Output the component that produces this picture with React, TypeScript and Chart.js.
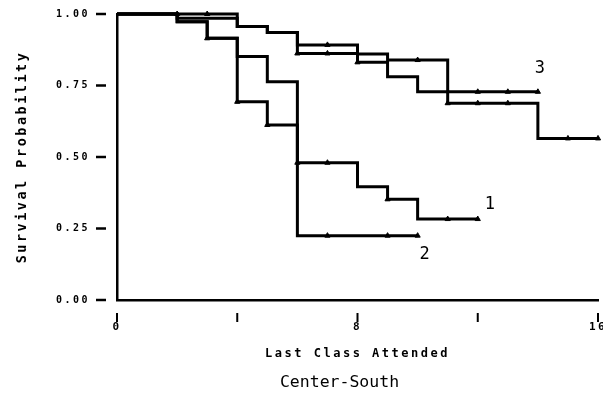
import React, { useEffect, useRef } from 'react';
import { Chart, registerables } from 'chart.js';
Chart.register(...registerables);

// ---- data ----
const xTicks = [0, 4, 8, 12, 16];
const xTickLabels = ['0', '', '8', '', '16'];
const yTicks = [0, 0.25, 0.5, 0.75, 1.0];
const yTickLabels = ['0.00', '0.25', '0.50', '0.75', '1.00'];

const times1 = [0, 2, 3, 4, 5, 6, 8, 9, 10, 12];
const surv1 = [1.0, 0.973, 0.915, 0.851, 0.763, 0.48, 0.396, 0.352, 0.283, 0.283];
const censor1 = [3, 6, 7, 9, 11, 12];

const times2 = [0, 2, 3, 4, 5, 6, 10];
const surv2 = [1.0, 0.973, 0.915, 0.693, 0.612, 0.225, 0.225];
const censor2 = [4, 5, 7, 9, 10];

const times3 = [0, 4, 5, 6, 8, 9, 11, 14];
const surv3 = [1.0, 0.956, 0.935, 0.892, 0.86, 0.839, 0.728, 0.728];
const censor3 = [2, 3, 7, 10, 12, 13, 14];

const times4 = [0, 2, 4, 5, 6, 8, 9, 10, 11, 14, 16];
const surv4 = [1.0, 0.985, 0.956, 0.935, 0.862, 0.831, 0.781, 0.728, 0.688, 0.565, 0.565];
const censor4 = [6, 7, 8, 11, 12, 13, 15, 16];

const curveLabels = ['1', '2', '3'];
const titleText = 'Center-South';
const xTitle = 'Last Class Attended';
const yTitle = 'Survival Probability';

const MONO = "'DejaVu Sans Mono', 'Liberation Mono', monospace";

function stepAt(times: number[], surv: number[], t: number) {
  let v = surv[0];
  for (let i = 0; i < times.length; i++) if (times[i] <= t) v = surv[i];
  return v;
}

function curveDataset(times: number[], surv: number[]) {
  return {
    type: 'line' as const,
    data: times.map((t, i) => ({ x: t, y: surv[i] })),
    stepped: 'before' as const,
    borderColor: '#000',
    borderWidth: 3,
    pointRadius: 0,
    fill: false,
    clip: false as any,
    borderCapStyle: 'butt' as const,
    borderJoinStyle: 'miter' as const,
  };
}

function censorDataset(times: number[], surv: number[], cens: number[]) {
  return {
    type: 'scatter' as const,
    data: cens.map((t) => ({ x: t, y: stepAt(times, surv, t) })),
    showLine: false,
    pointStyle: 'triangle' as const,
    pointRadius: 3,
    pointBackgroundColor: '#000',
    pointBorderColor: '#000',
    pointBorderWidth: 1,
    clip: false as any,
  };
}

const decorPlugin = {
  id: 'decor',
  beforeDraw(chart: any) {
    chart.ctx.letterSpacing = '2.5px';
  },
  afterDraw(chart: any) {
    const ctx = chart.ctx;
    const { left, bottom, right } = chart.chartArea;
    const xs = chart.scales.x;
    const ys = chart.scales.y;
    ctx.save();
    ctx.letterSpacing = '0px';
    ctx.strokeStyle = '#000';
    ctx.fillStyle = '#000';
    // y tick dashes (detached from axis)
    ctx.lineWidth = 2.5;
    yTicks.forEach((v) => {
      const py = ys.getPixelForValue(v);
      ctx.beginPath();
      ctx.moveTo(left - 21, py);
      ctx.lineTo(left - 11, py);
      ctx.stroke();
    });
    // x tick marks (detached from axis)
    ctx.lineWidth = 2;
    xTicks.forEach((v) => {
      const px = xs.getPixelForValue(v);
      ctx.beginPath();
      ctx.moveTo(px, bottom + 13);
      ctx.lineTo(px, bottom + 22);
      ctx.stroke();
    });
    // curve labels near curve ends
    ctx.font = `17px ${MONO}`;
    ctx.textAlign = 'center';
    ctx.textBaseline = 'middle';
    const ends = [
      { t: times1[times1.length - 1], s: surv1[surv1.length - 1], dx: 12, dy: -14 },
      { t: times2[times2.length - 1], s: surv2[surv2.length - 1], dx: 7, dy: 19 },
      { t: times3[times3.length - 1], s: surv3[surv3.length - 1], dx: 2, dy: -23 },
    ];
    ends.forEach((e, i) => {
      ctx.fillText(curveLabels[i], xs.getPixelForValue(e.t) + e.dx, ys.getPixelForValue(e.s) + e.dy);
    });
    // bottom title
    ctx.font = `16.5px ${MONO}`;
    ctx.fillText(titleText, (left + right) / 2 - 18, bottom + 83);
    ctx.restore();
  },
};

export default function App() {
  const ref = useRef<HTMLCanvasElement>(null);
  useEffect(() => {
    document.body.style.margin = '0';
    const chart = new Chart(ref.current as HTMLCanvasElement, {
      type: 'line',
      data: {
        datasets: [
          curveDataset(times4, surv4),
          curveDataset(times3, surv3),
          curveDataset(times2, surv2),
          curveDataset(times1, surv1),
          censorDataset(times1, surv1, censor1),
          censorDataset(times2, surv2, censor2),
          censorDataset(times3, surv3, censor3),
          censorDataset(times4, surv4, censor4),
        ] as any,
      },
      options: {
        animation: false,
        responsive: false,
        devicePixelRatio: 1,
        layout: { padding: { top: 14, right: 3, bottom: 34, left: 0 } },
        plugins: { legend: { display: false }, tooltip: { enabled: false }, title: { display: false } },
        scales: {
          x: {
            type: 'linear',
            min: 0,
            max: 16,
            afterBuildTicks: (s: any) => {
              s.ticks = xTicks.map((v) => ({ value: v }));
            },
            afterFit: (s: any) => {
              s.height = 70;
              s.paddingLeft = 0;
              s.paddingRight = 0;
            },
            ticks: {
              autoSkip: false,
              maxRotation: 0,
              padding: 21,
              color: '#000',
              font: { family: MONO, size: 11, weight: 'bold' },
              callback: (v: any) => {
                const i = xTicks.indexOf(Number(v));
                return i >= 0 ? xTickLabels[i] : '';
              },
            },
            grid: { display: false, drawTicks: false },
            border: { display: true, color: '#000', width: 2.5 },
            title: {
              display: true,
              text: xTitle,
              color: '#000',
              font: { family: MONO, size: 12, weight: 'bold' },
              padding: { top: 0, bottom: 8.5 },
            },
          },
          y: {
            type: 'linear',
            min: 0,
            max: 1,
            afterBuildTicks: (s: any) => {
              s.ticks = yTicks.map((v) => ({ value: v }));
            },
            afterFit: (s: any) => {
              s.width = 117;
              s.paddingTop = 0;
              s.paddingBottom = 0;
            },
            ticks: {
              padding: 27,
              color: '#000',
              font: { family: MONO, size: 10, weight: 'bold' },
              callback: (v: any) => {
                const i = yTicks.indexOf(Number(v));
                return i >= 0 ? yTickLabels[i] : '';
              },
            },
            grid: { display: false, drawTicks: false },
            border: { display: true, color: '#000', width: 2.5 },
            title: {
              display: true,
              text: yTitle,
              color: '#000',
              font: { family: MONO, size: 13.5, weight: 'bold' },
              padding: { top: 13.9, bottom: 0 },
            },
          },
        },
      },
      plugins: [decorPlugin],
    } as any);
    return () => chart.destroy();
  }, []);
  return (
    <div style={{ width: 603, height: 404 }}>
      <canvas ref={ref} width={603} height={404} style={{ display: 'block' }} />
    </div>
  );
}
